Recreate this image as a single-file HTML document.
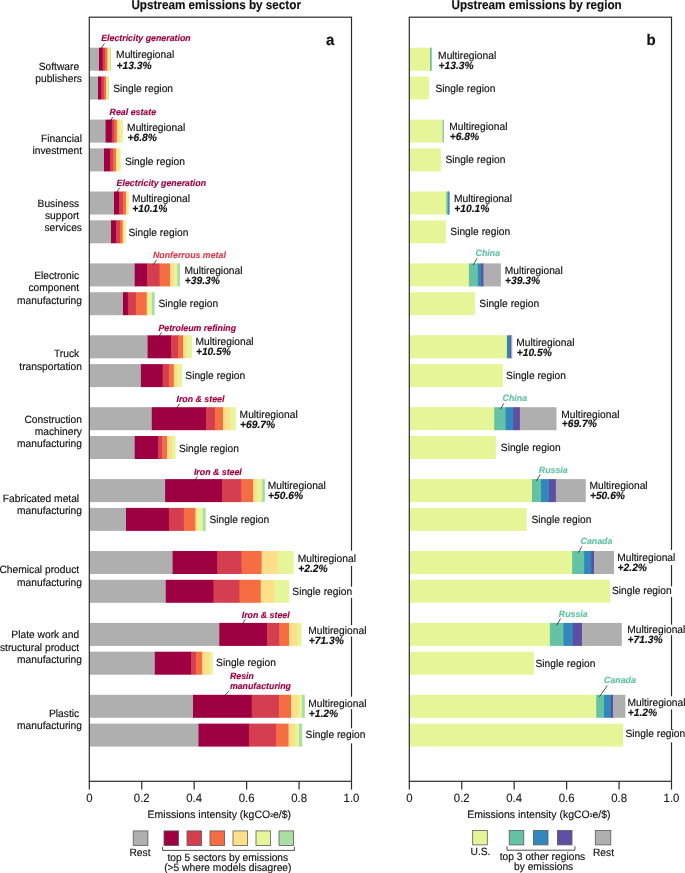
<!DOCTYPE html><html><head><meta charset="utf-8"><style>html,body{margin:0;padding:0;background:#fff;}svg{display:block;will-change:transform;}text{font-family:"Liberation Sans",sans-serif;text-rendering:geometricPrecision;}</style></head><body>
<svg width="685" height="873" viewBox="0 0 685 873">
<rect width="685" height="873" fill="#fff"/>
<rect x="89.3" y="47.7" width="10.3" height="23" fill="#afafaf"/>
<rect x="99" y="47.7" width="4.2" height="23" fill="#9e0142"/>
<rect x="102.6" y="47.7" width="2.9" height="23" fill="#d53e4f"/>
<rect x="104.9" y="47.7" width="3" height="23" fill="#f46d43"/>
<rect x="107.3" y="47.7" width="2.4" height="23" fill="#fee08b"/>
<rect x="109.1" y="47.7" width="1.9" height="23" fill="#e6f598"/>
<rect x="110.4" y="47.7" width="0.6" height="23" fill="#abdda4"/>
<rect x="89.3" y="76.5" width="9.3" height="23" fill="#afafaf"/>
<rect x="98" y="76.5" width="3.9" height="23" fill="#9e0142"/>
<rect x="101.3" y="76.5" width="3.2" height="23" fill="#d53e4f"/>
<rect x="103.9" y="76.5" width="2.8" height="23" fill="#f46d43"/>
<rect x="106.1" y="76.5" width="1.4" height="23" fill="#fee08b"/>
<rect x="106.9" y="76.5" width="1.8" height="23" fill="#e6f598"/>
<rect x="108.1" y="76.5" width="0.6" height="23" fill="#abdda4"/>
<rect x="89.3" y="119.6" width="16.9" height="23" fill="#afafaf"/>
<rect x="105.6" y="119.6" width="6.8" height="23" fill="#9e0142"/>
<rect x="111.8" y="119.6" width="3.1" height="23" fill="#d53e4f"/>
<rect x="114.3" y="119.6" width="3.2" height="23" fill="#f46d43"/>
<rect x="116.9" y="119.6" width="3.5" height="23" fill="#fee08b"/>
<rect x="119.8" y="119.6" width="3.1" height="23" fill="#e6f598"/>
<rect x="89.3" y="148.4" width="15.3" height="23" fill="#afafaf"/>
<rect x="104" y="148.4" width="6.7" height="23" fill="#9e0142"/>
<rect x="110.1" y="148.4" width="3.4" height="23" fill="#d53e4f"/>
<rect x="112.9" y="148.4" width="3.6" height="23" fill="#f46d43"/>
<rect x="115.9" y="148.4" width="2.6" height="23" fill="#fee08b"/>
<rect x="117.9" y="148.4" width="2.8" height="23" fill="#e6f598"/>
<rect x="89.3" y="191.5" width="25.3" height="23" fill="#afafaf"/>
<rect x="114" y="191.5" width="5.7" height="23" fill="#9e0142"/>
<rect x="119.1" y="191.5" width="4.4" height="23" fill="#d53e4f"/>
<rect x="122.9" y="191.5" width="3.6" height="23" fill="#f46d43"/>
<rect x="125.9" y="191.5" width="2.1" height="23" fill="#fee08b"/>
<rect x="127.4" y="191.5" width="1.5" height="23" fill="#e6f598"/>
<rect x="89.3" y="220.3" width="22.3" height="23" fill="#afafaf"/>
<rect x="111" y="220.3" width="5.6" height="23" fill="#9e0142"/>
<rect x="116" y="220.3" width="4.5" height="23" fill="#d53e4f"/>
<rect x="119.9" y="220.3" width="3.3" height="23" fill="#f46d43"/>
<rect x="122.6" y="220.3" width="2" height="23" fill="#fee08b"/>
<rect x="124" y="220.3" width="1.8" height="23" fill="#e6f598"/>
<rect x="89.3" y="263.4" width="46" height="23" fill="#afafaf"/>
<rect x="134.7" y="263.4" width="13" height="23" fill="#9e0142"/>
<rect x="147.1" y="263.4" width="13" height="23" fill="#d53e4f"/>
<rect x="159.5" y="263.4" width="11.1" height="23" fill="#f46d43"/>
<rect x="170" y="263.4" width="4.4" height="23" fill="#fee08b"/>
<rect x="173.8" y="263.4" width="4.1" height="23" fill="#e6f598"/>
<rect x="177.3" y="263.4" width="2.7" height="23" fill="#abdda4"/>
<rect x="89.3" y="292.2" width="34.3" height="23" fill="#afafaf"/>
<rect x="123" y="292.2" width="5.5" height="23" fill="#9e0142"/>
<rect x="127.9" y="292.2" width="8.6" height="23" fill="#d53e4f"/>
<rect x="135.9" y="292.2" width="11.4" height="23" fill="#f46d43"/>
<rect x="146.7" y="292.2" width="2" height="23" fill="#fee08b"/>
<rect x="148.1" y="292.2" width="4.4" height="23" fill="#e6f598"/>
<rect x="151.9" y="292.2" width="2.8" height="23" fill="#abdda4"/>
<rect x="89.3" y="335.3" width="58.9" height="23" fill="#afafaf"/>
<rect x="147.6" y="335.3" width="24" height="23" fill="#9e0142"/>
<rect x="171" y="335.3" width="7.6" height="23" fill="#d53e4f"/>
<rect x="178" y="335.3" width="5.6" height="23" fill="#f46d43"/>
<rect x="183" y="335.3" width="4.8" height="23" fill="#fee08b"/>
<rect x="187.2" y="335.3" width="4.7" height="23" fill="#e6f598"/>
<rect x="89.3" y="364.1" width="52.2" height="23" fill="#afafaf"/>
<rect x="140.9" y="364.1" width="22.3" height="23" fill="#9e0142"/>
<rect x="162.6" y="364.1" width="6.9" height="23" fill="#d53e4f"/>
<rect x="168.9" y="364.1" width="5.5" height="23" fill="#f46d43"/>
<rect x="173.8" y="364.1" width="4.5" height="23" fill="#fee08b"/>
<rect x="177.7" y="364.1" width="4.4" height="23" fill="#e6f598"/>
<rect x="89.3" y="407.2" width="63.1" height="23" fill="#afafaf"/>
<rect x="151.8" y="407.2" width="54.8" height="23" fill="#9e0142"/>
<rect x="206" y="407.2" width="9.5" height="23" fill="#d53e4f"/>
<rect x="214.9" y="407.2" width="8.7" height="23" fill="#f46d43"/>
<rect x="223" y="407.2" width="7.4" height="23" fill="#fee08b"/>
<rect x="229.8" y="407.2" width="6.1" height="23" fill="#e6f598"/>
<rect x="89.3" y="436" width="46" height="23" fill="#afafaf"/>
<rect x="134.7" y="436" width="24" height="23" fill="#9e0142"/>
<rect x="158.1" y="436" width="4.6" height="23" fill="#d53e4f"/>
<rect x="162.1" y="436" width="5.5" height="23" fill="#f46d43"/>
<rect x="167" y="436" width="5.7" height="23" fill="#fee08b"/>
<rect x="172.1" y="436" width="3.5" height="23" fill="#e6f598"/>
<rect x="89.3" y="479.1" width="76.4" height="23" fill="#afafaf"/>
<rect x="165.1" y="479.1" width="57.5" height="23" fill="#9e0142"/>
<rect x="222" y="479.1" width="19.9" height="23" fill="#d53e4f"/>
<rect x="241.3" y="479.1" width="12.3" height="23" fill="#f46d43"/>
<rect x="253" y="479.1" width="4.9" height="23" fill="#fee08b"/>
<rect x="257.3" y="479.1" width="5.3" height="23" fill="#e6f598"/>
<rect x="262" y="479.1" width="2.9" height="23" fill="#abdda4"/>
<rect x="89.3" y="507.9" width="37.3" height="23" fill="#afafaf"/>
<rect x="126" y="507.9" width="43.5" height="23" fill="#9e0142"/>
<rect x="168.9" y="507.9" width="15.5" height="23" fill="#d53e4f"/>
<rect x="183.8" y="507.9" width="12.2" height="23" fill="#f46d43"/>
<rect x="195.4" y="507.9" width="2.7" height="23" fill="#fee08b"/>
<rect x="197.5" y="507.9" width="5.8" height="23" fill="#e6f598"/>
<rect x="202.7" y="507.9" width="3" height="23" fill="#abdda4"/>
<rect x="89.3" y="551" width="83.9" height="23" fill="#afafaf"/>
<rect x="172.6" y="551" width="45.2" height="23" fill="#9e0142"/>
<rect x="217.2" y="551" width="24.9" height="23" fill="#d53e4f"/>
<rect x="241.5" y="551" width="20.7" height="23" fill="#f46d43"/>
<rect x="261.6" y="551" width="17.2" height="23" fill="#fee08b"/>
<rect x="278.2" y="551" width="15.5" height="23" fill="#e6f598"/>
<rect x="89.3" y="579.8" width="77.1" height="23" fill="#afafaf"/>
<rect x="165.8" y="579.8" width="48.2" height="23" fill="#9e0142"/>
<rect x="213.4" y="579.8" width="26.6" height="23" fill="#d53e4f"/>
<rect x="239.4" y="579.8" width="21.9" height="23" fill="#f46d43"/>
<rect x="260.7" y="579.8" width="14.1" height="23" fill="#fee08b"/>
<rect x="274.2" y="579.8" width="14.9" height="23" fill="#e6f598"/>
<rect x="89.3" y="622.9" width="130.6" height="23" fill="#afafaf"/>
<rect x="219.3" y="622.9" width="48.4" height="23" fill="#9e0142"/>
<rect x="267.1" y="622.9" width="12.8" height="23" fill="#d53e4f"/>
<rect x="279.3" y="622.9" width="10.4" height="23" fill="#f46d43"/>
<rect x="289.1" y="622.9" width="8.8" height="23" fill="#fee08b"/>
<rect x="297.3" y="622.9" width="4.2" height="23" fill="#e6f598"/>
<rect x="89.3" y="651.7" width="66.1" height="23" fill="#afafaf"/>
<rect x="154.8" y="651.7" width="36.8" height="23" fill="#9e0142"/>
<rect x="191" y="651.7" width="5.5" height="23" fill="#d53e4f"/>
<rect x="195.9" y="651.7" width="6.9" height="23" fill="#f46d43"/>
<rect x="202.2" y="651.7" width="8.1" height="23" fill="#fee08b"/>
<rect x="209.7" y="651.7" width="3" height="23" fill="#e6f598"/>
<rect x="89.3" y="694.8" width="104.3" height="23" fill="#afafaf"/>
<rect x="193" y="694.8" width="59.3" height="23" fill="#9e0142"/>
<rect x="251.7" y="694.8" width="27.8" height="23" fill="#d53e4f"/>
<rect x="278.9" y="694.8" width="12.7" height="23" fill="#f46d43"/>
<rect x="291" y="694.8" width="7.6" height="23" fill="#fee08b"/>
<rect x="298" y="694.8" width="4.5" height="23" fill="#e6f598"/>
<rect x="301.9" y="694.8" width="2.9" height="23" fill="#abdda4"/>
<rect x="89.3" y="723.6" width="109.8" height="23" fill="#afafaf"/>
<rect x="198.5" y="723.6" width="51" height="23" fill="#9e0142"/>
<rect x="248.9" y="723.6" width="27.9" height="23" fill="#d53e4f"/>
<rect x="276.2" y="723.6" width="12.9" height="23" fill="#f46d43"/>
<rect x="288.5" y="723.6" width="7" height="23" fill="#fee08b"/>
<rect x="294.9" y="723.6" width="4.7" height="23" fill="#e6f598"/>
<rect x="299" y="723.6" width="3.2" height="23" fill="#abdda4"/>
<rect x="409.3" y="47.7" width="21.3" height="23" fill="#e6f598"/>
<rect x="430" y="47.7" width="1.6" height="23" fill="#66c2a5"/>
<rect x="431" y="47.7" width="0.5" height="23" fill="#afafaf"/>
<rect x="409.3" y="76.5" width="19.6" height="23" fill="#e6f598"/>
<rect x="409.3" y="119.6" width="34.1" height="23" fill="#e6f598"/>
<rect x="442.8" y="119.6" width="0.7" height="23" fill="#3288bd"/>
<rect x="409.3" y="148.4" width="31.6" height="23" fill="#e6f598"/>
<rect x="409.3" y="191.5" width="37.6" height="23" fill="#e6f598"/>
<rect x="446.3" y="191.5" width="2.6" height="23" fill="#66c2a5"/>
<rect x="448.3" y="191.5" width="1.1" height="23" fill="#3288bd"/>
<rect x="448.8" y="191.5" width="0.5" height="23" fill="#5e4fa2"/>
<rect x="409.3" y="220.3" width="36.6" height="23" fill="#e6f598"/>
<rect x="409.3" y="263.4" width="60.2" height="23" fill="#e6f598"/>
<rect x="468.9" y="263.4" width="9.5" height="23" fill="#66c2a5"/>
<rect x="477.8" y="263.4" width="3.9" height="23" fill="#3288bd"/>
<rect x="481.1" y="263.4" width="2.9" height="23" fill="#5e4fa2"/>
<rect x="483.4" y="263.4" width="17.5" height="23" fill="#afafaf"/>
<rect x="409.3" y="292.2" width="65.7" height="23" fill="#e6f598"/>
<rect x="409.3" y="335.3" width="98.2" height="23" fill="#e6f598"/>
<rect x="506.9" y="335.3" width="3.5" height="23" fill="#3288bd"/>
<rect x="509.8" y="335.3" width="1.7" height="23" fill="#5e4fa2"/>
<rect x="510.9" y="335.3" width="1.4" height="23" fill="#afafaf"/>
<rect x="409.3" y="364.1" width="93.5" height="23" fill="#e6f598"/>
<rect x="409.3" y="407.2" width="85.5" height="23" fill="#e6f598"/>
<rect x="494.2" y="407.2" width="12" height="23" fill="#66c2a5"/>
<rect x="505.6" y="407.2" width="8.1" height="23" fill="#3288bd"/>
<rect x="513.1" y="407.2" width="7.4" height="23" fill="#5e4fa2"/>
<rect x="519.9" y="407.2" width="36.6" height="23" fill="#afafaf"/>
<rect x="409.3" y="436" width="86.6" height="23" fill="#e6f598"/>
<rect x="409.3" y="479.1" width="123.3" height="23" fill="#e6f598"/>
<rect x="532" y="479.1" width="9.6" height="23" fill="#66c2a5"/>
<rect x="541" y="479.1" width="8.6" height="23" fill="#3288bd"/>
<rect x="549" y="479.1" width="7.5" height="23" fill="#5e4fa2"/>
<rect x="555.9" y="479.1" width="29.9" height="23" fill="#afafaf"/>
<rect x="409.3" y="507.9" width="117.3" height="23" fill="#e6f598"/>
<rect x="409.3" y="551" width="163.4" height="23" fill="#e6f598"/>
<rect x="572.1" y="551" width="12.6" height="23" fill="#66c2a5"/>
<rect x="584.1" y="551" width="7.6" height="23" fill="#3288bd"/>
<rect x="591.1" y="551" width="3.5" height="23" fill="#5e4fa2"/>
<rect x="594" y="551" width="20" height="23" fill="#afafaf"/>
<rect x="409.3" y="579.8" width="200.8" height="23" fill="#e6f598"/>
<rect x="409.3" y="622.9" width="141.2" height="23" fill="#e6f598"/>
<rect x="549.9" y="622.9" width="14.2" height="23" fill="#66c2a5"/>
<rect x="563.5" y="622.9" width="9.9" height="23" fill="#3288bd"/>
<rect x="572.8" y="622.9" width="9.8" height="23" fill="#5e4fa2"/>
<rect x="582" y="622.9" width="39.8" height="23" fill="#afafaf"/>
<rect x="409.3" y="651.7" width="124.6" height="23" fill="#e6f598"/>
<rect x="409.3" y="694.8" width="187.5" height="23" fill="#e6f598"/>
<rect x="596.2" y="694.8" width="8.4" height="23" fill="#66c2a5"/>
<rect x="604" y="694.8" width="7.6" height="23" fill="#3288bd"/>
<rect x="611" y="694.8" width="2.6" height="23" fill="#5e4fa2"/>
<rect x="613" y="694.8" width="12.4" height="23" fill="#afafaf"/>
<rect x="409.3" y="723.6" width="213.9" height="23" fill="#e6f598"/>
<rect x="89.3" y="17.2" width="262.2" height="764.1" fill="none" stroke="#2b2b2b" stroke-width="1.2"/>
<line x1="89.3" y1="781.3" x2="89.3" y2="789.6" stroke="#2b2b2b" stroke-width="1.2"/>
<text transform="translate(89.3 801.6) scale(1 1.05)" font-size="11.4" text-anchor="middle" fill="#222" stroke="#222" stroke-width="0.15">0</text>
<line x1="141.74" y1="781.3" x2="141.74" y2="789.6" stroke="#2b2b2b" stroke-width="1.2"/>
<text transform="translate(141.74 801.6) scale(1 1.05)" font-size="11.4" text-anchor="middle" fill="#222" stroke="#222" stroke-width="0.15">0.2</text>
<line x1="194.18" y1="781.3" x2="194.18" y2="789.6" stroke="#2b2b2b" stroke-width="1.2"/>
<text transform="translate(194.18 801.6) scale(1 1.05)" font-size="11.4" text-anchor="middle" fill="#222" stroke="#222" stroke-width="0.15">0.4</text>
<line x1="246.62" y1="781.3" x2="246.62" y2="789.6" stroke="#2b2b2b" stroke-width="1.2"/>
<text transform="translate(246.62 801.6) scale(1 1.05)" font-size="11.4" text-anchor="middle" fill="#222" stroke="#222" stroke-width="0.15">0.6</text>
<line x1="299.06" y1="781.3" x2="299.06" y2="789.6" stroke="#2b2b2b" stroke-width="1.2"/>
<text transform="translate(299.06 801.6) scale(1 1.05)" font-size="11.4" text-anchor="middle" fill="#222" stroke="#222" stroke-width="0.15">0.8</text>
<line x1="351.5" y1="781.3" x2="351.5" y2="789.6" stroke="#2b2b2b" stroke-width="1.2"/>
<text transform="translate(351.5 801.6) scale(1 1.05)" font-size="11.4" text-anchor="middle" fill="#222" stroke="#222" stroke-width="0.15">1.0</text>
<rect x="409.3" y="17.2" width="262.2" height="764.1" fill="none" stroke="#2b2b2b" stroke-width="1.2"/>
<line x1="409.3" y1="781.3" x2="409.3" y2="789.6" stroke="#2b2b2b" stroke-width="1.2"/>
<text transform="translate(409.3 801.6) scale(1 1.05)" font-size="11.4" text-anchor="middle" fill="#222" stroke="#222" stroke-width="0.15">0</text>
<line x1="461.74" y1="781.3" x2="461.74" y2="789.6" stroke="#2b2b2b" stroke-width="1.2"/>
<text transform="translate(461.74 801.6) scale(1 1.05)" font-size="11.4" text-anchor="middle" fill="#222" stroke="#222" stroke-width="0.15">0.2</text>
<line x1="514.18" y1="781.3" x2="514.18" y2="789.6" stroke="#2b2b2b" stroke-width="1.2"/>
<text transform="translate(514.18 801.6) scale(1 1.05)" font-size="11.4" text-anchor="middle" fill="#222" stroke="#222" stroke-width="0.15">0.4</text>
<line x1="566.62" y1="781.3" x2="566.62" y2="789.6" stroke="#2b2b2b" stroke-width="1.2"/>
<text transform="translate(566.62 801.6) scale(1 1.05)" font-size="11.4" text-anchor="middle" fill="#222" stroke="#222" stroke-width="0.15">0.6</text>
<line x1="619.06" y1="781.3" x2="619.06" y2="789.6" stroke="#2b2b2b" stroke-width="1.2"/>
<text transform="translate(619.06 801.6) scale(1 1.05)" font-size="11.4" text-anchor="middle" fill="#222" stroke="#222" stroke-width="0.15">0.8</text>
<line x1="671.5" y1="781.3" x2="671.5" y2="789.6" stroke="#2b2b2b" stroke-width="1.2"/>
<text transform="translate(671.5 801.6) scale(1 1.05)" font-size="11.4" text-anchor="middle" fill="#222" stroke="#222" stroke-width="0.15">1.0</text>
<rect x="670" y="550" width="4" height="15.1" fill="#fff"/>
<rect x="670" y="586.4" width="4" height="10.5" fill="#fff"/>
<rect x="670" y="624.6" width="4" height="10.5" fill="#fff"/>
<rect x="670" y="696.3" width="4" height="13.1" fill="#fff"/>
<rect x="670" y="729.9" width="4" height="12.4" fill="#fff"/>
<rect x="349.5" y="550.7" width="4" height="15.2" fill="#fff"/>
<rect x="349.5" y="586.7" width="4" height="11.1" fill="#fff"/>
<rect x="349.5" y="625.1" width="4" height="11.4" fill="#fff"/>
<rect x="349.5" y="696.7" width="4" height="12.4" fill="#fff"/>
<rect x="349.5" y="728.3" width="4" height="15.1" fill="#fff"/>
<text transform="translate(116.1 58.3) scale(1 1.03)" font-size="10.25" fill="#111" stroke="#111" stroke-width="0.15">Multiregional</text>
<text transform="translate(116.5 68.7) scale(1 1.03)" font-size="10.25" font-weight="bold" font-style="italic" fill="#111" stroke="#111" stroke-width="0.15">+13.3%</text>
<text transform="translate(113.2 91.7) scale(1 1.03)" font-size="10.25" fill="#111" stroke="#111" stroke-width="0.15">Single region</text>
<text transform="translate(438.1 59.3) scale(1 1.03)" font-size="10.25" fill="#111" stroke="#111" stroke-width="0.15">Multiregional</text>
<text transform="translate(438.5 69.3) scale(1 1.03)" font-size="10.25" font-weight="bold" font-style="italic" fill="#111" stroke="#111" stroke-width="0.15">+13.3%</text>
<text transform="translate(435.5 91.5) scale(1 1.03)" font-size="10.25" fill="#111" stroke="#111" stroke-width="0.15">Single region</text>
<text transform="translate(127.1 131.3) scale(1 1.03)" font-size="10.25" fill="#111" stroke="#111" stroke-width="0.15">Multiregional</text>
<text transform="translate(127.5 141.4) scale(1 1.03)" font-size="10.25" font-weight="bold" font-style="italic" fill="#111" stroke="#111" stroke-width="0.15">+6.8%</text>
<text transform="translate(125 164.7) scale(1 1.03)" font-size="10.25" fill="#111" stroke="#111" stroke-width="0.15">Single region</text>
<text transform="translate(449.3 130.2) scale(1 1.03)" font-size="10.25" fill="#111" stroke="#111" stroke-width="0.15">Multiregional</text>
<text transform="translate(449.7 140.3) scale(1 1.03)" font-size="10.25" font-weight="bold" font-style="italic" fill="#111" stroke="#111" stroke-width="0.15">+6.8%</text>
<text transform="translate(445.5 163.3) scale(1 1.03)" font-size="10.25" fill="#111" stroke="#111" stroke-width="0.15">Single region</text>
<text transform="translate(131.9 202.2) scale(1 1.03)" font-size="10.25" fill="#111" stroke="#111" stroke-width="0.15">Multiregional</text>
<text transform="translate(132.3 212.3) scale(1 1.03)" font-size="10.25" font-weight="bold" font-style="italic" fill="#111" stroke="#111" stroke-width="0.15">+10.1%</text>
<text transform="translate(128.5 235.7) scale(1 1.03)" font-size="10.25" fill="#111" stroke="#111" stroke-width="0.15">Single region</text>
<text transform="translate(453.9 201.9) scale(1 1.03)" font-size="10.25" fill="#111" stroke="#111" stroke-width="0.15">Multiregional</text>
<text transform="translate(454.3 211.8) scale(1 1.03)" font-size="10.25" font-weight="bold" font-style="italic" fill="#111" stroke="#111" stroke-width="0.15">+10.1%</text>
<text transform="translate(450.3 235.3) scale(1 1.03)" font-size="10.25" fill="#111" stroke="#111" stroke-width="0.15">Single region</text>
<text transform="translate(184.4 273.9) scale(1 1.03)" font-size="10.25" fill="#111" stroke="#111" stroke-width="0.15">Multiregional</text>
<text transform="translate(184.8 283.7) scale(1 1.03)" font-size="10.25" font-weight="bold" font-style="italic" fill="#111" stroke="#111" stroke-width="0.15">+39.3%</text>
<text transform="translate(158.4 307.1) scale(1 1.03)" font-size="10.25" fill="#111" stroke="#111" stroke-width="0.15">Single region</text>
<text transform="translate(504.7 273.6) scale(1 1.03)" font-size="10.25" fill="#111" stroke="#111" stroke-width="0.15">Multiregional</text>
<text transform="translate(505.1 283.6) scale(1 1.03)" font-size="10.25" font-weight="bold" font-style="italic" fill="#111" stroke="#111" stroke-width="0.15">+39.3%</text>
<text transform="translate(479.3 307.4) scale(1 1.03)" font-size="10.25" fill="#111" stroke="#111" stroke-width="0.15">Single region</text>
<text transform="translate(195.5 345.3) scale(1 1.03)" font-size="10.25" fill="#111" stroke="#111" stroke-width="0.15">Multiregional</text>
<text transform="translate(195.9 355.2) scale(1 1.03)" font-size="10.25" font-weight="bold" font-style="italic" fill="#111" stroke="#111" stroke-width="0.15">+10.5%</text>
<text transform="translate(185.3 378.5) scale(1 1.03)" font-size="10.25" fill="#111" stroke="#111" stroke-width="0.15">Single region</text>
<text transform="translate(516.3 345.9) scale(1 1.03)" font-size="10.25" fill="#111" stroke="#111" stroke-width="0.15">Multiregional</text>
<text transform="translate(516.7 355.8) scale(1 1.03)" font-size="10.25" font-weight="bold" font-style="italic" fill="#111" stroke="#111" stroke-width="0.15">+10.5%</text>
<text transform="translate(506.1 379.4) scale(1 1.03)" font-size="10.25" fill="#111" stroke="#111" stroke-width="0.15">Single region</text>
<text transform="translate(239.6 418.1) scale(1 1.03)" font-size="10.25" fill="#111" stroke="#111" stroke-width="0.15">Multiregional</text>
<text transform="translate(240 428) scale(1 1.03)" font-size="10.25" font-weight="bold" font-style="italic" fill="#111" stroke="#111" stroke-width="0.15">+69.7%</text>
<text transform="translate(179 451.5) scale(1 1.03)" font-size="10.25" fill="#111" stroke="#111" stroke-width="0.15">Single region</text>
<text transform="translate(561.3 417.5) scale(1 1.03)" font-size="10.25" fill="#111" stroke="#111" stroke-width="0.15">Multiregional</text>
<text transform="translate(561.7 427.4) scale(1 1.03)" font-size="10.25" font-weight="bold" font-style="italic" fill="#111" stroke="#111" stroke-width="0.15">+69.7%</text>
<text transform="translate(500.8 450.7) scale(1 1.03)" font-size="10.25" fill="#111" stroke="#111" stroke-width="0.15">Single region</text>
<text transform="translate(267.7 489.2) scale(1 1.03)" font-size="10.25" fill="#111" stroke="#111" stroke-width="0.15">Multiregional</text>
<text transform="translate(268.1 499.4) scale(1 1.03)" font-size="10.25" font-weight="bold" font-style="italic" fill="#111" stroke="#111" stroke-width="0.15">+50.6%</text>
<text transform="translate(209.4 522.5) scale(1 1.03)" font-size="10.25" fill="#111" stroke="#111" stroke-width="0.15">Single region</text>
<text transform="translate(589.5 489.3) scale(1 1.03)" font-size="10.25" fill="#111" stroke="#111" stroke-width="0.15">Multiregional</text>
<text transform="translate(589.9 499.2) scale(1 1.03)" font-size="10.25" font-weight="bold" font-style="italic" fill="#111" stroke="#111" stroke-width="0.15">+50.6%</text>
<text transform="translate(531.5 522.5) scale(1 1.03)" font-size="10.25" fill="#111" stroke="#111" stroke-width="0.15">Single region</text>
<text transform="translate(297.8 561.9) scale(1 1.03)" font-size="10.25" fill="#111" stroke="#111" stroke-width="0.15">Multiregional</text>
<text transform="translate(298.2 571.5) scale(1 1.03)" font-size="10.25" font-weight="bold" font-style="italic" fill="#111" stroke="#111" stroke-width="0.15">+2.2%</text>
<text transform="translate(292.3 595.3) scale(1 1.03)" font-size="10.25" fill="#111" stroke="#111" stroke-width="0.15">Single region</text>
<text transform="translate(617.2 561.4) scale(1 1.03)" font-size="10.25" fill="#111" stroke="#111" stroke-width="0.15">Multiregional</text>
<text transform="translate(617.6 571.2) scale(1 1.03)" font-size="10.25" font-weight="bold" font-style="italic" fill="#111" stroke="#111" stroke-width="0.15">+2.2%</text>
<text transform="translate(611.9 594.2) scale(1 1.03)" font-size="10.25" fill="#111" stroke="#111" stroke-width="0.15">Single region</text>
<text transform="translate(308.3 634.1) scale(1 1.03)" font-size="10.25" fill="#111" stroke="#111" stroke-width="0.15">Multiregional</text>
<text transform="translate(308.7 643.9) scale(1 1.03)" font-size="10.25" font-weight="bold" font-style="italic" fill="#111" stroke="#111" stroke-width="0.15">+71.3%</text>
<text transform="translate(216.1 665.5) scale(1 1.03)" font-size="10.25" fill="#111" stroke="#111" stroke-width="0.15">Single region</text>
<text transform="translate(627.2 633.3) scale(1 1.03)" font-size="10.25" fill="#111" stroke="#111" stroke-width="0.15">Multiregional</text>
<text transform="translate(627.6 643) scale(1 1.03)" font-size="10.25" font-weight="bold" font-style="italic" fill="#111" stroke="#111" stroke-width="0.15">+71.3%</text>
<text transform="translate(535.5 666.7) scale(1 1.03)" font-size="10.25" fill="#111" stroke="#111" stroke-width="0.15">Single region</text>
<text transform="translate(308.3 706.6) scale(1 1.03)" font-size="10.25" fill="#111" stroke="#111" stroke-width="0.15">Multiregional</text>
<text transform="translate(308.7 716.5) scale(1 1.03)" font-size="10.25" font-weight="bold" font-style="italic" fill="#111" stroke="#111" stroke-width="0.15">+1.2%</text>
<text transform="translate(305.6 738.4) scale(1 1.03)" font-size="10.25" fill="#111" stroke="#111" stroke-width="0.15">Single region</text>
<text transform="translate(627.4 705.7) scale(1 1.03)" font-size="10.25" fill="#111" stroke="#111" stroke-width="0.15">Multiregional</text>
<text transform="translate(627.8 715.7) scale(1 1.03)" font-size="10.25" font-weight="bold" font-style="italic" fill="#111" stroke="#111" stroke-width="0.15">+1.2%</text>
<text transform="translate(625.4 737.4) scale(1 1.03)" font-size="10.25" fill="#111" stroke="#111" stroke-width="0.15">Single region</text>
<text transform="translate(82.0 70) scale(1 1.03)" font-size="10.25" text-anchor="end" fill="#111" stroke="#111" stroke-width="0.15" xml:space="preserve">Software </text>
<text transform="translate(82.0 82.1) scale(1 1.03)" font-size="10.25" text-anchor="end" fill="#111" stroke="#111" stroke-width="0.15" xml:space="preserve">publishers</text>
<text transform="translate(82.0 141.7) scale(1 1.03)" font-size="10.25" text-anchor="end" fill="#111" stroke="#111" stroke-width="0.15" xml:space="preserve">Financial</text>
<text transform="translate(82.0 153.6) scale(1 1.03)" font-size="10.25" text-anchor="end" fill="#111" stroke="#111" stroke-width="0.15" xml:space="preserve">investment</text>
<text transform="translate(82.0 207.3) scale(1 1.03)" font-size="10.25" text-anchor="end" fill="#111" stroke="#111" stroke-width="0.15" xml:space="preserve">Business </text>
<text transform="translate(82.0 219.4) scale(1 1.03)" font-size="10.25" text-anchor="end" fill="#111" stroke="#111" stroke-width="0.15" xml:space="preserve">support </text>
<text transform="translate(82.0 231.1) scale(1 1.03)" font-size="10.25" text-anchor="end" fill="#111" stroke="#111" stroke-width="0.15" xml:space="preserve">services</text>
<text transform="translate(82.0 278.9) scale(1 1.03)" font-size="10.25" text-anchor="end" fill="#111" stroke="#111" stroke-width="0.15" xml:space="preserve">Electronic </text>
<text transform="translate(82.0 291.3) scale(1 1.03)" font-size="10.25" text-anchor="end" fill="#111" stroke="#111" stroke-width="0.15" xml:space="preserve">component </text>
<text transform="translate(82.0 303.8) scale(1 1.03)" font-size="10.25" text-anchor="end" fill="#111" stroke="#111" stroke-width="0.15" xml:space="preserve">manufacturing</text>
<text transform="translate(82.0 357.2) scale(1 1.03)" font-size="10.25" text-anchor="end" fill="#111" stroke="#111" stroke-width="0.15" xml:space="preserve">Truck </text>
<text transform="translate(82.0 369.7) scale(1 1.03)" font-size="10.25" text-anchor="end" fill="#111" stroke="#111" stroke-width="0.15" xml:space="preserve">transportation</text>
<text transform="translate(82.0 422.8) scale(1 1.03)" font-size="10.25" text-anchor="end" fill="#111" stroke="#111" stroke-width="0.15" xml:space="preserve">Construction</text>
<text transform="translate(82.0 434.7) scale(1 1.03)" font-size="10.25" text-anchor="end" fill="#111" stroke="#111" stroke-width="0.15" xml:space="preserve">machinery</text>
<text transform="translate(82.0 446.7) scale(1 1.03)" font-size="10.25" text-anchor="end" fill="#111" stroke="#111" stroke-width="0.15" xml:space="preserve">manufacturing</text>
<text transform="translate(82.0 501.6) scale(1 1.03)" font-size="10.25" text-anchor="end" fill="#111" stroke="#111" stroke-width="0.15" xml:space="preserve">Fabricated metal </text>
<text transform="translate(82.0 513.6) scale(1 1.03)" font-size="10.25" text-anchor="end" fill="#111" stroke="#111" stroke-width="0.15" xml:space="preserve">manufacturing</text>
<text transform="translate(82.0 573.3) scale(1 1.03)" font-size="10.25" text-anchor="end" fill="#111" stroke="#111" stroke-width="0.15" xml:space="preserve">Chemical product </text>
<text transform="translate(82.0 585.5) scale(1 1.03)" font-size="10.25" text-anchor="end" fill="#111" stroke="#111" stroke-width="0.15" xml:space="preserve">manufacturing</text>
<text transform="translate(82.0 638.4) scale(1 1.03)" font-size="10.25" text-anchor="end" fill="#111" stroke="#111" stroke-width="0.15" xml:space="preserve">Plate work and </text>
<text transform="translate(82.0 650.5) scale(1 1.03)" font-size="10.25" text-anchor="end" fill="#111" stroke="#111" stroke-width="0.15" xml:space="preserve">structural product </text>
<text transform="translate(82.0 662.6) scale(1 1.03)" font-size="10.25" text-anchor="end" fill="#111" stroke="#111" stroke-width="0.15" xml:space="preserve">manufacturing</text>
<text transform="translate(82.0 716.7) scale(1 1.03)" font-size="10.25" text-anchor="end" fill="#111" stroke="#111" stroke-width="0.15" xml:space="preserve">Plastic </text>
<text transform="translate(82.0 728.6) scale(1 1.03)" font-size="10.25" text-anchor="end" fill="#111" stroke="#111" stroke-width="0.15" xml:space="preserve">manufacturing</text>
<text transform="translate(101.2 41.3) scale(1 1.03)" font-size="8.8" font-weight="bold" font-style="italic" fill="#9e0142" stroke="#9e0142" stroke-width="0.15">Electricity generation</text>
<line x1="104.5" y1="43.5" x2="101.3" y2="48.1" stroke="#222" stroke-width="0.8"/>
<text transform="translate(109.6 115.3) scale(1 1.03)" font-size="8.8" font-weight="bold" font-style="italic" fill="#9e0142" stroke="#9e0142" stroke-width="0.15">Real estate</text>
<line x1="112.7" y1="117.3" x2="109.2" y2="122.3" stroke="#222" stroke-width="0.8"/>
<text transform="translate(116.6 185.6) scale(1 1.03)" font-size="8.8" font-weight="bold" font-style="italic" fill="#9e0142" stroke="#9e0142" stroke-width="0.15">Electricity generation</text>
<line x1="119.8" y1="187.6" x2="116.4" y2="192.6" stroke="#222" stroke-width="0.8"/>
<text transform="translate(153 257.9) scale(1 1.03)" font-size="8.8" font-weight="bold" font-style="italic" fill="#d53e4f" stroke="#d53e4f" stroke-width="0.15">Nonferrous metal</text>
<line x1="156.6" y1="259.8" x2="153.1" y2="264.9" stroke="#222" stroke-width="0.8"/>
<text transform="translate(158.4 330.6) scale(1 1.03)" font-size="8.8" font-weight="bold" font-style="italic" fill="#9e0142" stroke="#9e0142" stroke-width="0.15">Petroleum refining</text>
<line x1="161.6" y1="332.3" x2="158.3" y2="337.5" stroke="#222" stroke-width="0.8"/>
<text transform="translate(176.5 401.9) scale(1 1.03)" font-size="8.8" font-weight="bold" font-style="italic" fill="#9e0142" stroke="#9e0142" stroke-width="0.15">Iron &amp; steel</text>
<line x1="179.7" y1="403.6" x2="176.3" y2="408.6" stroke="#222" stroke-width="0.8"/>
<text transform="translate(193.9 474.7) scale(1 1.03)" font-size="8.8" font-weight="bold" font-style="italic" fill="#9e0142" stroke="#9e0142" stroke-width="0.15">Iron &amp; steel</text>
<line x1="197.4" y1="476.5" x2="193.9" y2="481.5" stroke="#222" stroke-width="0.8"/>
<text transform="translate(241.7 617.7) scale(1 1.03)" font-size="8.8" font-weight="bold" font-style="italic" fill="#9e0142" stroke="#9e0142" stroke-width="0.15">Iron &amp; steel</text>
<line x1="245.4" y1="619.4" x2="241.9" y2="624.4" stroke="#222" stroke-width="0.8"/>
<text transform="translate(229.9 678.8) scale(1 1.03)" font-size="8.8" font-weight="bold" font-style="italic" fill="#9e0142" stroke="#9e0142" stroke-width="0.15">Resin</text>
<text transform="translate(229.9 689) scale(1 1.03)" font-size="8.8" font-weight="bold" font-style="italic" fill="#9e0142" stroke="#9e0142" stroke-width="0.15">manufacturing</text>
<line x1="228.9" y1="691.2" x2="223.5" y2="696.6" stroke="#222" stroke-width="0.8"/>
<text transform="translate(475.6 256.2) scale(1 1.03)" font-size="8.8" font-weight="bold" font-style="italic" fill="#66c2a5" stroke="#66c2a5" stroke-width="0.15">China</text>
<line x1="477" y1="258.2" x2="473.3" y2="265" stroke="#222" stroke-width="0.8"/>
<text transform="translate(502.6 401.1) scale(1 1.03)" font-size="8.8" font-weight="bold" font-style="italic" fill="#66c2a5" stroke="#66c2a5" stroke-width="0.15">China</text>
<line x1="503.8" y1="403.3" x2="500.3" y2="409.4" stroke="#222" stroke-width="0.8"/>
<text transform="translate(538.8 472.5) scale(1 1.03)" font-size="8.8" font-weight="bold" font-style="italic" fill="#66c2a5" stroke="#66c2a5" stroke-width="0.15">Russia</text>
<line x1="540.2" y1="474.5" x2="536.4" y2="480.8" stroke="#222" stroke-width="0.8"/>
<text transform="translate(580.6 544.3) scale(1 1.03)" font-size="8.8" font-weight="bold" font-style="italic" fill="#66c2a5" stroke="#66c2a5" stroke-width="0.15">Canada</text>
<line x1="582" y1="546.3" x2="578.3" y2="552.8" stroke="#222" stroke-width="0.8"/>
<text transform="translate(558.8 616.5) scale(1 1.03)" font-size="8.8" font-weight="bold" font-style="italic" fill="#66c2a5" stroke="#66c2a5" stroke-width="0.15">Russia</text>
<line x1="560.7" y1="618.5" x2="556.7" y2="625.3" stroke="#222" stroke-width="0.8"/>
<text transform="translate(604.1 683.2) scale(1 1.03)" font-size="8.8" font-weight="bold" font-style="italic" fill="#66c2a5" stroke="#66c2a5" stroke-width="0.15">Canada</text>
<line x1="607.4" y1="685.5" x2="599.4" y2="696.7" stroke="#222" stroke-width="0.8"/>
<text transform="translate(131.4 8.5) scale(1 1.08)" font-size="11.7" font-weight="bold" fill="#111" stroke="#111" stroke-width="0.15">Upstream emissions by sector</text>
<text transform="translate(451.5 8.5) scale(1 1.08)" font-size="11.7" font-weight="bold" fill="#111" stroke="#111" stroke-width="0.15">Upstream emissions by region</text>
<text transform="translate(326 45) scale(1 1.03)" font-size="15" font-weight="bold" fill="#111" stroke="#111" stroke-width="0.15">a</text>
<text transform="translate(646.5 45) scale(1 1.03)" font-size="15" font-weight="bold" fill="#111" stroke="#111" stroke-width="0.15">b</text>
<text transform="translate(147.6 818.3) scale(1 1.03)" font-size="10.5" fill="#111" stroke="#111" stroke-width="0.15">Emissions intensity (kgCO<tspan font-size="5" dy="-1.6">2</tspan><tspan dy="1.6">e/$)</tspan></text>
<text transform="translate(467.2 818.3) scale(1 1.03)" font-size="10.5" fill="#111" stroke="#111" stroke-width="0.15">Emissions intensity (kgCO<tspan font-size="5" dy="-1.6">2</tspan><tspan dy="1.6">e/$)</tspan></text>
<rect x="133.2" y="830.9" width="14.7" height="14.6" fill="#afafaf" stroke="#5a5a5a" stroke-width="0.8"/>
<rect x="164" y="830.9" width="14.6" height="14.6" fill="#9e0142" stroke="#5a5a5a" stroke-width="0.8"/>
<rect x="187" y="830.9" width="14.6" height="14.6" fill="#d53e4f" stroke="#5a5a5a" stroke-width="0.8"/>
<rect x="210" y="830.9" width="14.6" height="14.6" fill="#f46d43" stroke="#5a5a5a" stroke-width="0.8"/>
<rect x="233" y="830.9" width="14.6" height="14.6" fill="#fee08b" stroke="#5a5a5a" stroke-width="0.8"/>
<rect x="256" y="830.9" width="14.6" height="14.6" fill="#e6f598" stroke="#5a5a5a" stroke-width="0.8"/>
<rect x="279" y="830.9" width="14.6" height="14.6" fill="#abdda4" stroke="#5a5a5a" stroke-width="0.8"/>
<path d="M162.6 846.8 V850.4 H294.4 V846.8" fill="none" stroke="#222" stroke-width="0.8"/>
<text transform="translate(140 855.8) scale(1 1.03)" font-size="10.25" text-anchor="middle" fill="#111" stroke="#111" stroke-width="0.15">Rest</text>
<text transform="translate(227.8 861) scale(1 1.03)" font-size="10.25" text-anchor="middle" fill="#111" stroke="#111" stroke-width="0.15">top 5 sectors by emissions</text>
<text transform="translate(227.8 870.8) scale(1 1.03)" font-size="10.25" text-anchor="middle" fill="#111" stroke="#111" stroke-width="0.15">(&gt;5 where models disagree)</text>
<rect x="472.7" y="830.4" width="14.6" height="14.5" fill="#e6f598" stroke="#5a5a5a" stroke-width="0.8"/>
<rect x="509.2" y="830.4" width="14.6" height="14.5" fill="#66c2a5" stroke="#5a5a5a" stroke-width="0.8"/>
<rect x="533.4" y="830.4" width="14.6" height="14.5" fill="#3288bd" stroke="#5a5a5a" stroke-width="0.8"/>
<rect x="557.4" y="830.4" width="14.6" height="14.5" fill="#5e4fa2" stroke="#5a5a5a" stroke-width="0.8"/>
<rect x="595.3" y="830.4" width="15.5" height="14.5" fill="#afafaf" stroke="#5a5a5a" stroke-width="0.8"/>
<path d="M507 846.2 V850.2 H574.9 V846.2" fill="none" stroke="#222" stroke-width="0.8"/>
<text transform="translate(480.5 855.2) scale(1 1.03)" font-size="10.25" text-anchor="middle" fill="#111" stroke="#111" stroke-width="0.15">U.S.</text>
<text transform="translate(542.5 860.2) scale(1 1.03)" font-size="10.25" text-anchor="middle" fill="#111" stroke="#111" stroke-width="0.15">top 3 other regions</text>
<text transform="translate(543.6 869.9) scale(1 1.03)" font-size="10.25" text-anchor="middle" fill="#111" stroke="#111" stroke-width="0.15">by emissions</text>
<text transform="translate(603.5 855.5) scale(1 1.03)" font-size="10.25" text-anchor="middle" fill="#111" stroke="#111" stroke-width="0.15">Rest</text>
</svg></body></html>
